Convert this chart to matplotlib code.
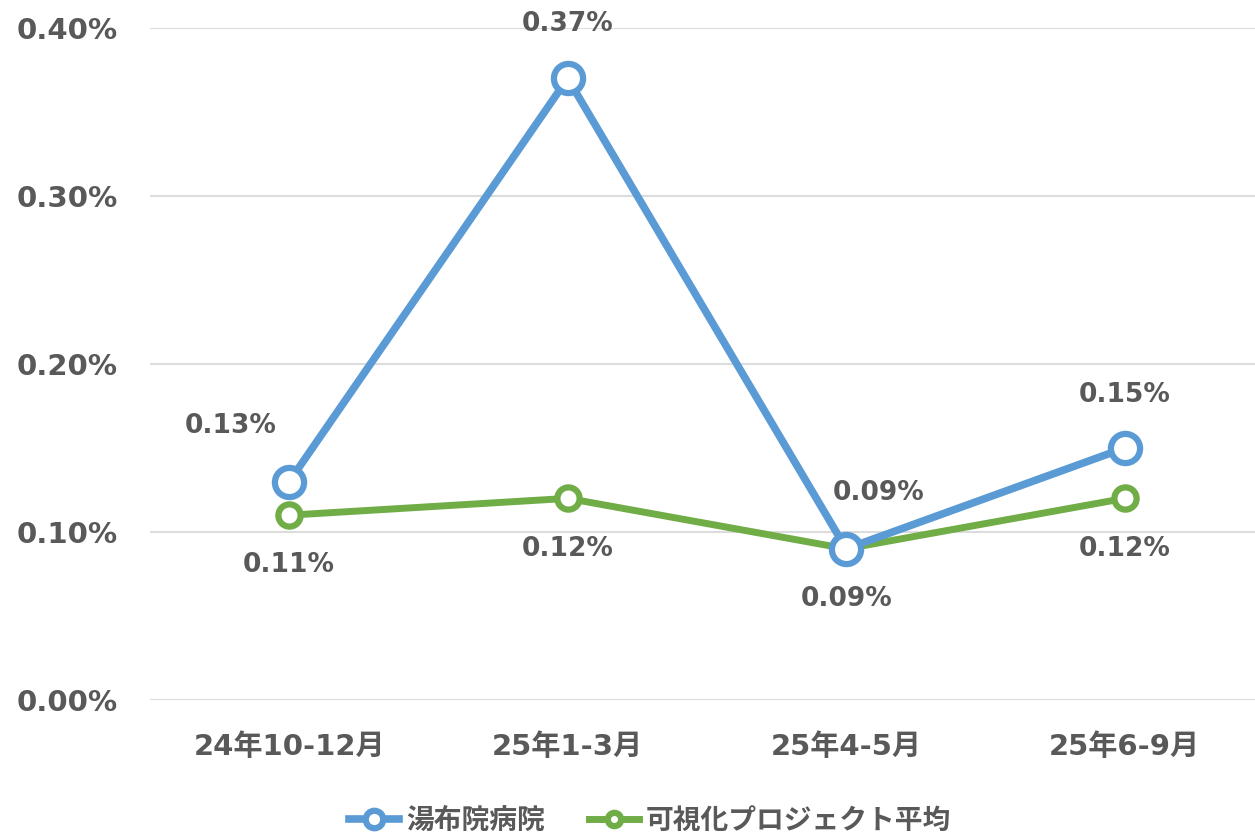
import matplotlib.pyplot as plt
from matplotlib.ticker import FuncFormatter

plt.rcParams['font.family'] = ['DejaVu Sans', 'Noto Sans CJK JP']
plt.rcParams['font.weight'] = 'bold'

periods = ["24年10-12月", "25年1-3月", "25年4-5月", "25年6-9月"]
yufuin = [0.13, 0.37, 0.09, 0.15]
project_avg = [0.11, 0.12, 0.09, 0.12]

# label offsets in pixels (dx, dy)
yufuin_offsets = [(-59, 56), (0, 54), (32, 56), (0, 53)]
avg_offsets = [(0, -50), (0, -51), (0, -50), (0, -51)]

blue = "#5B9BD5"
green = "#70AD47"
gray = "#595959"

fig = plt.figure(figsize=(12.55, 8.33), dpi=100)
ax = fig.add_axes([0.1195, 0.1597, 0.8876, 0.8067])

x = range(len(periods))
ax.plot(x, project_avg, color=green, lw=5, marker="o", ms=16,
        mfc="white", mec=green, mew=4.5, label="可視化プロジェクト平均", zorder=3)
ax.plot(x, yufuin, color=blue, lw=5.5, marker="o", ms=21,
        mfc="white", mec=blue, mew=4.5, label="湯布院病院", zorder=4)

for i, v in enumerate(yufuin):
    ax.annotate(f"{v:.2f}%", (i, v), xytext=yufuin_offsets[i],
                textcoords="offset pixels", ha="center", va="center",
                fontsize=19, color=gray, fontweight="bold")
for i, v in enumerate(project_avg):
    ax.annotate(f"{v:.2f}%", (i, v), xytext=avg_offsets[i],
                textcoords="offset pixels", ha="center", va="center",
                fontsize=19, color=gray, fontweight="bold")

ax.set_xlim(-0.5, len(periods) - 0.5)
ax.set_ylim(0, 0.4)
ax.set_yticks([0, 0.1, 0.2, 0.3, 0.4])
ax.yaxis.set_major_formatter(FuncFormatter(lambda v, p: f"{v:.2f}%"))
ax.set_xticks(list(x))
ax.set_xticklabels(periods)
ax.tick_params(length=0, labelsize=21, labelcolor=gray, pad=24)
ax.tick_params(axis="y", pad=23)
for lab in ax.get_xticklabels() + ax.get_yticklabels():
    lab.set_fontweight("bold")

ax.grid(axis="y", color="#dcdcdc", lw=1.5)
ax.set_axisbelow(True)
for s in ax.spines.values():
    s.set_visible(False)

handles, labels = ax.get_legend_handles_labels()
leg = fig.legend(handles[::-1], labels[::-1], loc="center", bbox_to_anchor=(0.518, 0.015),
                 ncol=2, frameon=False, fontsize=20, handlelength=1.8,
                 columnspacing=1.6, handletextpad=0.25, markerscale=0.6)
for t in leg.get_texts():
    t.set_color(gray)
    t.set_fontweight("bold")

fig.savefig("out.png", dpi=100)
